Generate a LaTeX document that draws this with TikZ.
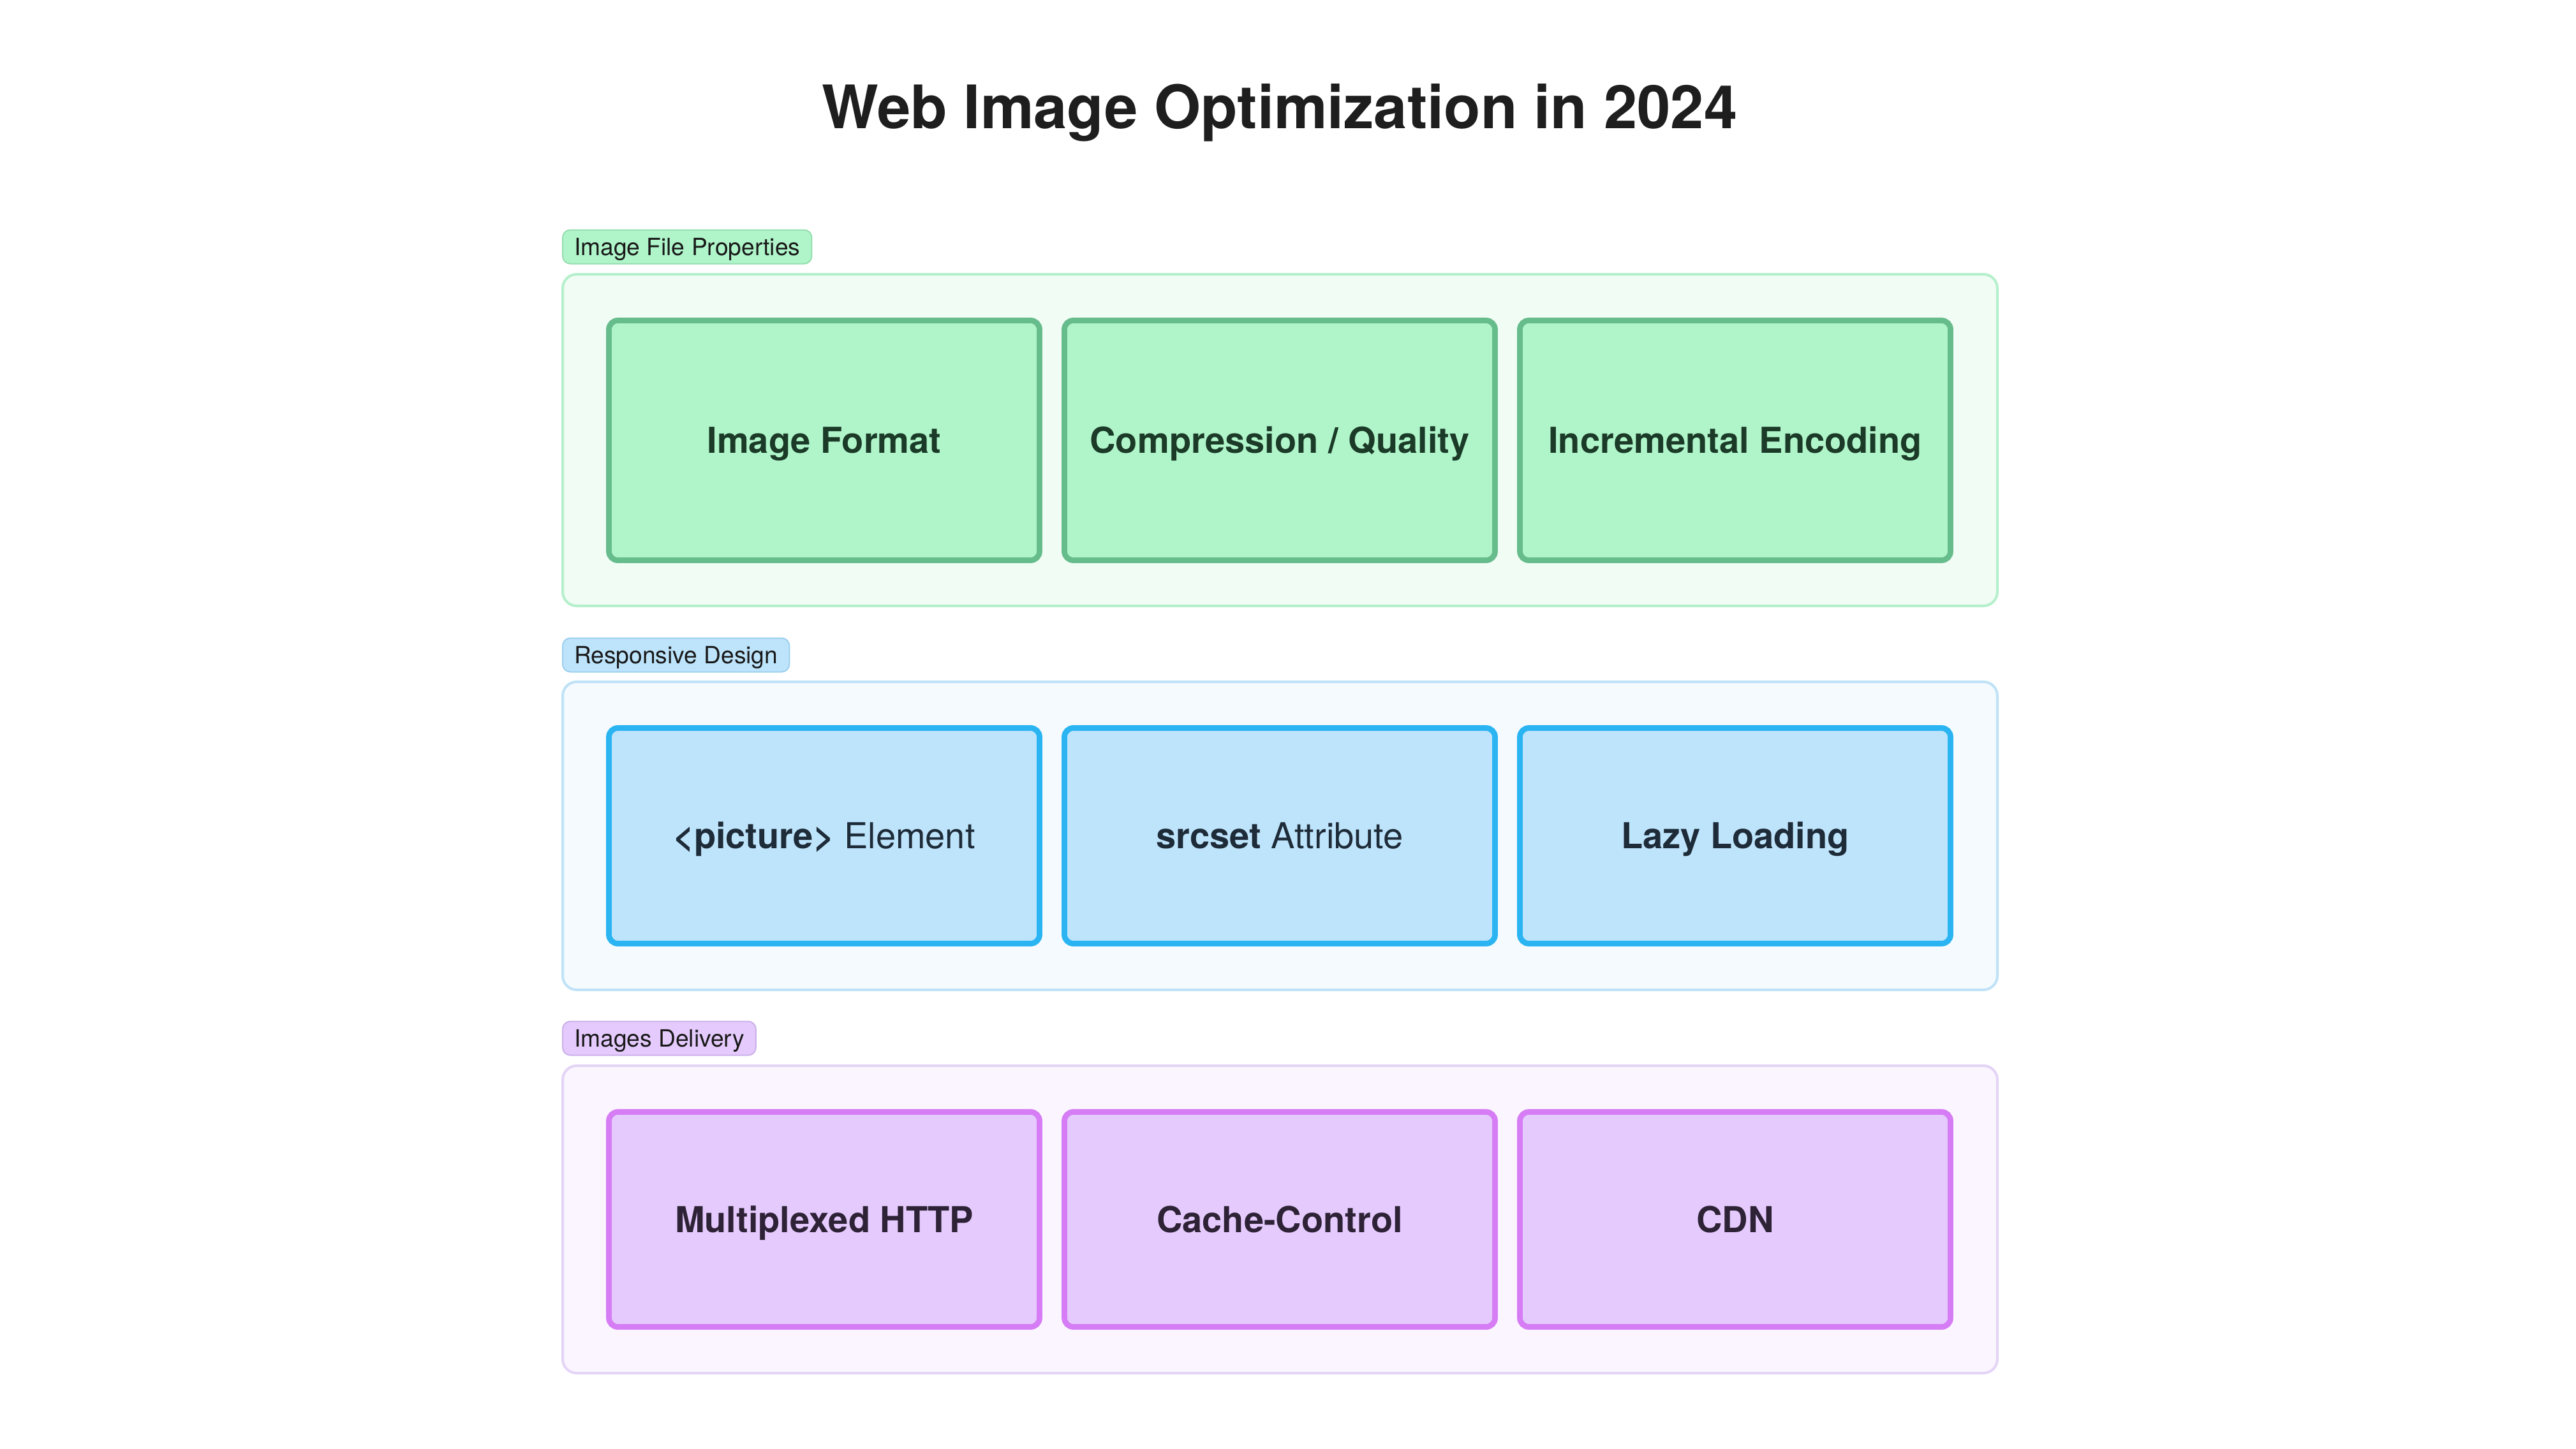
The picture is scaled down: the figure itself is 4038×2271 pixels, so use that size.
\documentclass[tikz,border=0pt]{standalone}
\usepackage{fontspec}
\setmainfont{TeX Gyre Heros}
\definecolor{gfill}{HTML}{F0FCF4}
\definecolor{gline}{HTML}{B4F0CB}
\definecolor{gnode}{HTML}{B0F5CA}
\definecolor{gstroke}{HTML}{67BC8C}
\definecolor{gtext}{HTML}{1B3A27}
\definecolor{glab}{HTML}{95DDB0}
\definecolor{bfill}{HTML}{F4FAFE}
\definecolor{bline}{HTML}{BFE2F7}
\definecolor{bnode}{HTML}{BEE4FB}
\definecolor{bstroke}{HTML}{2AB4F2}
\definecolor{btext}{HTML}{1E2B38}
\definecolor{blab}{HTML}{9CCFEF}
\definecolor{pfill}{HTML}{FAF5FE}
\definecolor{pline}{HTML}{E4D4F6}
\definecolor{pnode}{HTML}{E5CBFD}
\definecolor{pstroke}{HTML}{D67CF5}
\definecolor{ptext}{HTML}{2E2236}
\definecolor{plab}{HTML}{CBB0EA}
\definecolor{titlec}{HTML}{1E1E1E}
\begin{document}
\begin{tikzpicture}[x=0.25pt,y=-0.25pt,
  grp/.style={draw, rounded corners=5.5pt, line width=1pt, minimum width=562.25pt, inner sep=0pt},
  item/.style={draw, rounded corners=3.5pt, line width=2.2pt, minimum width=168.75pt, inner sep=0pt,
     font=\fontsize{14pt}{17pt}\selectfont\bfseries, text height=10.05pt, text depth=0pt},
  tag/.style={draw, rounded corners=3pt, line width=0.5pt, anchor=west, inner xsep=4.5pt, inner ysep=0pt,
     minimum height=13.25pt, text height=6.6pt, text depth=0pt, text=black!90,
     font=\fontsize{9.3pt}{11pt}\selectfont},
  row1/.style={minimum height=94pt},
  row2/.style={minimum height=84.5pt},
  row3/.style={minimum height=84.25pt}]
\useasboundingbox (0,0) rectangle (4038,2271);
\fill[white] (0,0) rectangle (4038,2271);

\node[text=titlec, font=\fontsize{23.5pt}{28pt}\selectfont\bfseries, text height=16.9pt, text depth=0pt, inner sep=0pt]
  (title) at (2006,167.5) {Web Image Optimization in 2024};

% group 1
\node[tag, fill=gnode, draw=glab] (tag1) at (881,387) {Image File Properties};
\node[grp, fill=gfill, draw=gline, minimum height=130pt] (grp1) at (2006.5,690) {};
\node[item, row1, fill=gnode, draw=gstroke, text=gtext] (n11) at (1292,690.5) {Image Format};
\node[item, row1, fill=gnode, draw=gstroke, text=gtext] (n12) at (2006,690.5) {Compression / Quality};
\node[item, row1, fill=gnode, draw=gstroke, text=gtext] (n13) at (2720,690.5) {Incremental Encoding};

% group 2
\node[tag, fill=bnode, draw=blab] (tag2) at (881,1027) {Responsive Design};
\node[grp, fill=bfill, draw=bline, minimum height=120.75pt] (grp2) at (2006.5,1310.5) {};
\node[item, row2, fill=bnode, draw=bstroke, text=btext] (n21) at (1292,1310.5) {<picture>\mdseries\ Element};
\node[item, row2, fill=bnode, draw=bstroke, text=btext] (n22) at (2006,1310.5) {srcset\mdseries\ Attribute};
\node[item, row2, fill=bnode, draw=bstroke, text=btext] (n23) at (2720,1310.5) {Lazy Loading};

% group 3
\node[tag, fill=pnode, draw=plab] (tag3) at (881,1628) {Images Delivery};
\node[grp, fill=pfill, draw=pline, minimum height=120.5pt] (grp3) at (2006.5,1912) {};
\node[item, row3, fill=pnode, draw=pstroke, text=ptext] (n31) at (1292,1912) {Multiplexed HTTP};
\node[item, row3, fill=pnode, draw=pstroke, text=ptext] (n32) at (2006,1912) {Cache-Control};
\node[item, row3, fill=pnode, draw=pstroke, text=ptext] (n33) at (2720,1912) {CDN};
\end{tikzpicture}
\end{document}
